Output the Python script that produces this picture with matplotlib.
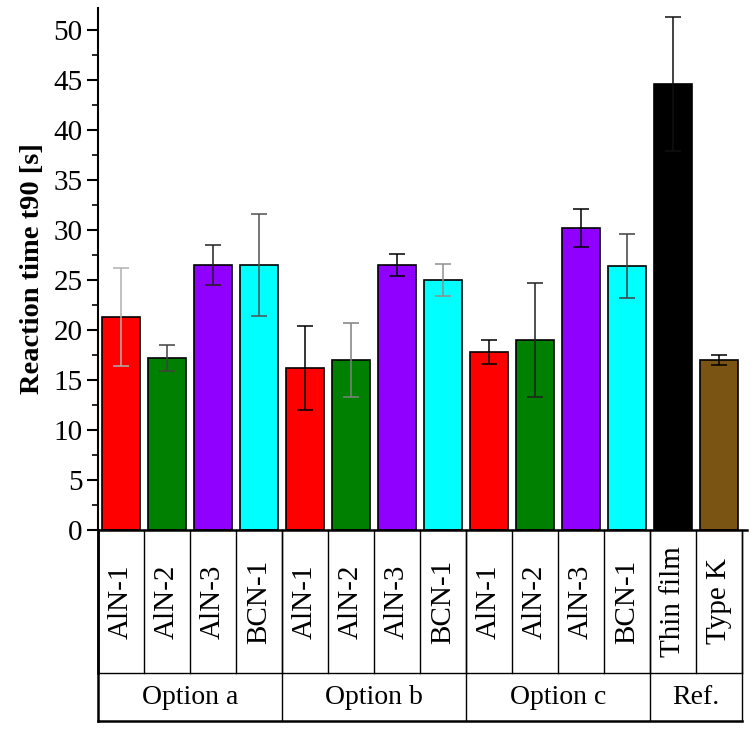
import numpy as np
import matplotlib
matplotlib.use("Agg")
import matplotlib.pyplot as plt

# data
samples = ["AlN-1", "AlN-2", "AlN-3", "BCN-1",
           "AlN-1", "AlN-2", "AlN-3", "BCN-1",
           "AlN-1", "AlN-2", "AlN-3", "BCN-1",
           "Thin film", "Type K"]
groups = ["Option a", "Option b", "Option c", "Ref."]
group_sizes = [4, 4, 4, 2]
t90 = [21.3, 17.2, 26.5, 26.5,
       16.2, 17.0, 26.5, 25.0,
       17.8, 19.0, 30.2, 26.4,
       44.6, 17.0]
t90_err = [4.9, 1.3, 2.0, 5.1,
           4.2, 3.7, 1.1, 1.6,
           1.2, 5.7, 1.9, 3.2,
           6.7, 0.5]

bar_colors = ["#ff0000", "#008000", "#8f00ff", "#00ffff"] * 3 + ["#000000", "#7a5412"]
err_colors = ["#b0b0b0", "#404040", "#202020", "#505050",
              "#000000", "#808080", "#000000", "#909090",
              "#000000", "#202020", "#000000", "#404040",
              "#101010", "#000000"]

plt.rcParams["font.family"] = "Liberation Serif"

W, H = 754, 730
fig = plt.figure(figsize=(W / 100, H / 100), dpi=100)

x_left, x_right = 98, 742
y_top, y_axis, y_row, y_bot = 8, 530, 673, 721

ax = fig.add_axes([x_left / W, (H - y_axis) / H, (x_right - x_left) / W, (y_axis - y_top) / H])
x = np.arange(len(samples))
ax.bar(x, t90, width=0.82, color=bar_colors, edgecolor="black", linewidth=1.2, zorder=2)
for xi, v, e, c in zip(x, t90, t90_err, err_colors):
    ax.errorbar(xi, v, yerr=e, fmt="none", ecolor=c, elinewidth=1.1, capsize=6, capthick=1.1, zorder=3)

ax.set_xlim(-0.5, len(samples) - 0.5)
ax.set_ylim(0, 52.2)
ax.set_yticks(np.arange(0, 51, 5))
ax.set_yticks(np.arange(0, 52, 2.5), minor=True)
ax.set_xticks([])
ax.tick_params(axis="y", which="major", length=8, width=1.5, labelsize=21, pad=3)
ax.tick_params(axis="y", which="minor", length=4.5, width=1.2)
for s in ["top", "right"]:
    ax.spines[s].set_visible(False)
ax.spines["left"].set_linewidth(1.5)
ax.spines["bottom"].set_linewidth(1.8)
ax.spines["bottom"].set_bounds(-0.5, len(samples) - 0.4)
ax.set_ylabel("Reaction time t90 [s]", fontsize=20.5, fontweight="bold", labelpad=6)

# label table below the axis
tab = fig.add_axes([x_left / W, (H - y_bot) / H, (x_right - x_left) / W, (y_bot - y_axis) / H])
tab.set_xlim(-0.5, len(samples) - 0.5)
tab.set_ylim(0, y_bot - y_axis)
tab.axis("off")
row_h = y_bot - y_row
full_h = y_bot - y_axis

edges = np.arange(len(samples) + 1) - 0.5
group_edges = np.concatenate([[0], np.cumsum(group_sizes)]) - 0.5
for e in edges:
    lw = 1.8 if e == edges[0] else 1.0
    tab.plot([e, e], [row_h, full_h], color="black", lw=lw, clip_on=False)
for e in group_edges:
    lw = 1.8 if e == group_edges[0] else 1.0
    tab.plot([e, e], [0, full_h], color="black", lw=lw, clip_on=False)
tab.plot([edges[0], edges[-1]], [row_h, row_h], color="black", lw=1.0, clip_on=False)
tab.plot([edges[0], edges[-1]], [0, 0], color="black", lw=1.8, clip_on=False)

for xi, name in zip(x, samples):
    tab.text(xi, (row_h + full_h) / 2, name, rotation=90, ha="center", va="center", fontsize=21)
for i, g in enumerate(groups):
    xc = (group_edges[i] + group_edges[i + 1]) / 2
    tab.text(xc, row_h / 2, g, ha="center", va="center", fontsize=20)

fig.savefig("out.png", dpi=100)
